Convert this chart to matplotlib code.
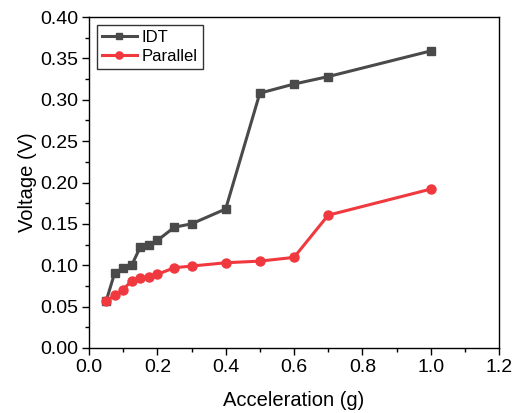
import matplotlib
matplotlib.use("Agg")
import matplotlib.pyplot as plt
from matplotlib.ticker import MultipleLocator

plt.rcParams['font.family'] = ['Liberation Sans', 'DejaVu Sans']

accel = [0.05, 0.075, 0.1, 0.125, 0.15, 0.175, 0.2, 0.25, 0.3, 0.4, 0.5, 0.6, 0.7, 1.0]
idt = [0.0565, 0.0905, 0.0965, 0.100, 0.122, 0.125, 0.130, 0.146, 0.150, 0.168, 0.308, 0.319, 0.328, 0.359]
parallel = [0.0565, 0.0635, 0.0705, 0.0815, 0.0845, 0.0855, 0.089, 0.097, 0.099, 0.103, 0.105, 0.1095, 0.1605, 0.192]

fig = plt.figure(figsize=(5.22, 4.13), dpi=100)
ax = fig.add_axes([0.1705, 0.1574, 0.7855, 0.8014])

ax.plot(accel, idt, color='#4a4a4a', lw=2.2, marker='s', ms=6, label='IDT')
ax.plot(accel, parallel, color='#f0383f', lw=2.2, marker='o', ms=6.5, label='Parallel')

ax.set_xlim(0, 1.2)
ax.set_ylim(0, 0.40)
ax.xaxis.set_major_locator(MultipleLocator(0.2))
ax.xaxis.set_minor_locator(MultipleLocator(0.1))
ax.yaxis.set_major_locator(MultipleLocator(0.05))
ax.yaxis.set_minor_locator(MultipleLocator(0.025))
ax.xaxis.set_major_formatter(matplotlib.ticker.FormatStrFormatter('%.1f'))
ax.yaxis.set_major_formatter(matplotlib.ticker.FormatStrFormatter('%.2f'))
ax.tick_params(which='major', direction='out', length=5, width=1, labelsize=14, pad=3)
ax.tick_params(which='minor', direction='out', length=3, width=1)
for s in ax.spines.values():
    s.set_linewidth(1)

ax.set_xlabel('Acceleration (g)', fontsize=14.5, labelpad=11)
ax.set_ylabel('Voltage (V)', fontsize=14.5, labelpad=2)

leg = ax.legend(loc='upper left', fontsize=12, frameon=True, fancybox=False,
                edgecolor='black', handlelength=2.1, handletextpad=0.3,
                borderaxespad=0.45, borderpad=0.32, labelspacing=0.25, markerscale=0.8)
leg.get_frame().set_linewidth(1)

fig.savefig('out.png', dpi=100)
